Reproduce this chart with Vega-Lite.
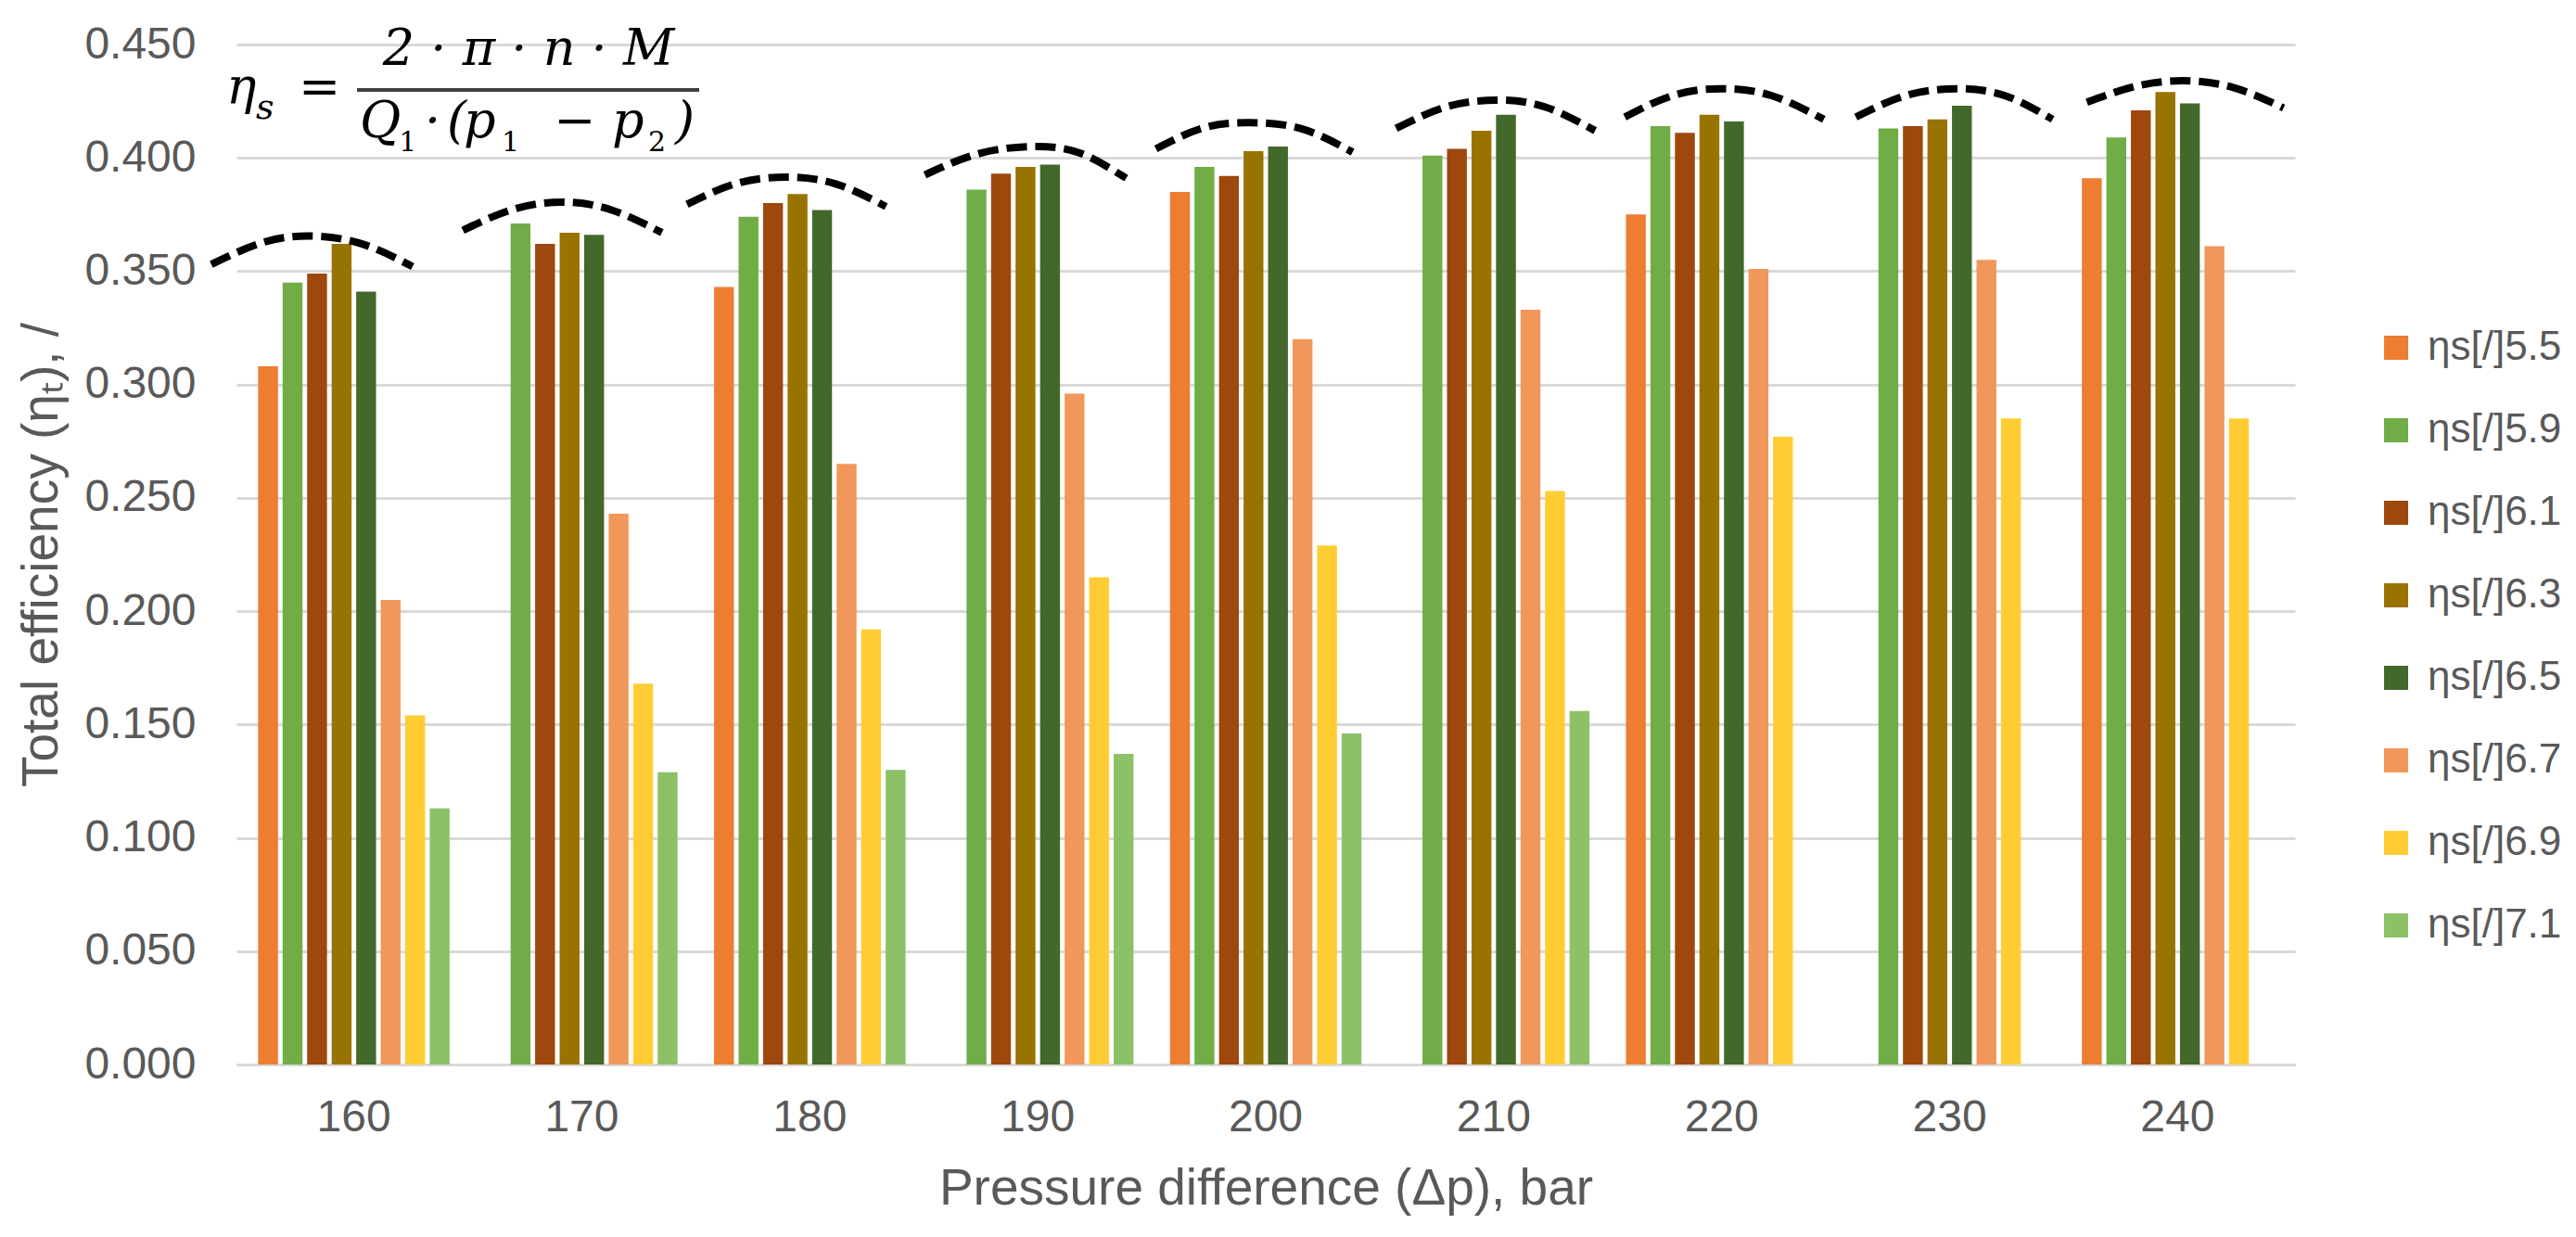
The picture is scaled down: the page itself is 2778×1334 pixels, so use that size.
{
  "$schema": "https://vega.github.io/schema/vega-lite/v6.json",
  "width": 2220,
  "height": 1100,
  "autosize": {"type": "none"},
  "padding": {"left": 255, "top": 48, "right": 303, "bottom": 186},
  "background": "white",
  "config": {"font": "Liberation Sans", "view": {"stroke": null}},
  "datasets": {
    "bars": [
      {"dp": "160", "series": "ηs[/]5.5", "value": 0.308},
      {"dp": "160", "series": "ηs[/]5.9", "value": 0.345},
      {"dp": "160", "series": "ηs[/]6.1", "value": 0.349},
      {"dp": "160", "series": "ηs[/]6.3", "value": 0.362},
      {"dp": "160", "series": "ηs[/]6.5", "value": 0.341},
      {"dp": "160", "series": "ηs[/]6.7", "value": 0.205},
      {"dp": "160", "series": "ηs[/]6.9", "value": 0.154},
      {"dp": "160", "series": "ηs[/]7.1", "value": 0.113},
      {"dp": "170", "series": "ηs[/]5.9", "value": 0.371},
      {"dp": "170", "series": "ηs[/]6.1", "value": 0.362},
      {"dp": "170", "series": "ηs[/]6.3", "value": 0.367},
      {"dp": "170", "series": "ηs[/]6.5", "value": 0.366},
      {"dp": "170", "series": "ηs[/]6.7", "value": 0.243},
      {"dp": "170", "series": "ηs[/]6.9", "value": 0.168},
      {"dp": "170", "series": "ηs[/]7.1", "value": 0.129},
      {"dp": "180", "series": "ηs[/]5.5", "value": 0.343},
      {"dp": "180", "series": "ηs[/]5.9", "value": 0.374},
      {"dp": "180", "series": "ηs[/]6.1", "value": 0.380},
      {"dp": "180", "series": "ηs[/]6.3", "value": 0.384},
      {"dp": "180", "series": "ηs[/]6.5", "value": 0.377},
      {"dp": "180", "series": "ηs[/]6.7", "value": 0.265},
      {"dp": "180", "series": "ηs[/]6.9", "value": 0.192},
      {"dp": "180", "series": "ηs[/]7.1", "value": 0.130},
      {"dp": "190", "series": "ηs[/]5.9", "value": 0.386},
      {"dp": "190", "series": "ηs[/]6.1", "value": 0.393},
      {"dp": "190", "series": "ηs[/]6.3", "value": 0.396},
      {"dp": "190", "series": "ηs[/]6.5", "value": 0.397},
      {"dp": "190", "series": "ηs[/]6.7", "value": 0.296},
      {"dp": "190", "series": "ηs[/]6.9", "value": 0.215},
      {"dp": "190", "series": "ηs[/]7.1", "value": 0.137},
      {"dp": "200", "series": "ηs[/]5.5", "value": 0.385},
      {"dp": "200", "series": "ηs[/]5.9", "value": 0.396},
      {"dp": "200", "series": "ηs[/]6.1", "value": 0.392},
      {"dp": "200", "series": "ηs[/]6.3", "value": 0.403},
      {"dp": "200", "series": "ηs[/]6.5", "value": 0.405},
      {"dp": "200", "series": "ηs[/]6.7", "value": 0.320},
      {"dp": "200", "series": "ηs[/]6.9", "value": 0.229},
      {"dp": "200", "series": "ηs[/]7.1", "value": 0.146},
      {"dp": "210", "series": "ηs[/]5.9", "value": 0.401},
      {"dp": "210", "series": "ηs[/]6.1", "value": 0.404},
      {"dp": "210", "series": "ηs[/]6.3", "value": 0.412},
      {"dp": "210", "series": "ηs[/]6.5", "value": 0.419},
      {"dp": "210", "series": "ηs[/]6.7", "value": 0.333},
      {"dp": "210", "series": "ηs[/]6.9", "value": 0.253},
      {"dp": "210", "series": "ηs[/]7.1", "value": 0.156},
      {"dp": "220", "series": "ηs[/]5.5", "value": 0.375},
      {"dp": "220", "series": "ηs[/]5.9", "value": 0.414},
      {"dp": "220", "series": "ηs[/]6.1", "value": 0.411},
      {"dp": "220", "series": "ηs[/]6.3", "value": 0.419},
      {"dp": "220", "series": "ηs[/]6.5", "value": 0.416},
      {"dp": "220", "series": "ηs[/]6.7", "value": 0.351},
      {"dp": "220", "series": "ηs[/]6.9", "value": 0.277},
      {"dp": "230", "series": "ηs[/]5.9", "value": 0.413},
      {"dp": "230", "series": "ηs[/]6.1", "value": 0.414},
      {"dp": "230", "series": "ηs[/]6.3", "value": 0.417},
      {"dp": "230", "series": "ηs[/]6.5", "value": 0.423},
      {"dp": "230", "series": "ηs[/]6.7", "value": 0.355},
      {"dp": "230", "series": "ηs[/]6.9", "value": 0.285},
      {"dp": "240", "series": "ηs[/]5.5", "value": 0.391},
      {"dp": "240", "series": "ηs[/]5.9", "value": 0.409},
      {"dp": "240", "series": "ηs[/]6.1", "value": 0.421},
      {"dp": "240", "series": "ηs[/]6.3", "value": 0.429},
      {"dp": "240", "series": "ηs[/]6.5", "value": 0.424},
      {"dp": "240", "series": "ηs[/]6.7", "value": 0.361},
      {"dp": "240", "series": "ηs[/]6.9", "value": 0.285}
    ],
    "arcs": [
      {"arc": "160", "ax": 153.9, "v": 0.353},
      {"arc": "160", "ax": 156.1, "v": 0.3625},
      {"arc": "160", "ax": 158.2, "v": 0.3655},
      {"arc": "160", "ax": 160.5, "v": 0.362},
      {"arc": "160", "ax": 162.7, "v": 0.352},
      {"arc": "170", "ax": 164.9, "v": 0.368},
      {"arc": "170", "ax": 167.0, "v": 0.377},
      {"arc": "170", "ax": 169.2, "v": 0.3805},
      {"arc": "170", "ax": 171.4, "v": 0.377},
      {"arc": "170", "ax": 173.6, "v": 0.367},
      {"arc": "180", "ax": 174.7, "v": 0.3795},
      {"arc": "180", "ax": 176.8, "v": 0.3885},
      {"arc": "180", "ax": 179.0, "v": 0.3915},
      {"arc": "180", "ax": 181.2, "v": 0.3885},
      {"arc": "180", "ax": 183.4, "v": 0.3785},
      {"arc": "190", "ax": 185.1, "v": 0.3925},
      {"arc": "190", "ax": 187.5, "v": 0.402},
      {"arc": "190", "ax": 189.9, "v": 0.405},
      {"arc": "190", "ax": 191.9, "v": 0.402},
      {"arc": "190", "ax": 193.9, "v": 0.391},
      {"arc": "200", "ax": 195.2, "v": 0.404},
      {"arc": "200", "ax": 197.2, "v": 0.413},
      {"arc": "200", "ax": 199.15, "v": 0.4155},
      {"arc": "200", "ax": 201.5, "v": 0.413},
      {"arc": "200", "ax": 203.8, "v": 0.4025},
      {"arc": "210", "ax": 205.7, "v": 0.413},
      {"arc": "210", "ax": 207.9, "v": 0.4225},
      {"arc": "210", "ax": 210.1, "v": 0.4255},
      {"arc": "210", "ax": 212.2, "v": 0.4225},
      {"arc": "210", "ax": 214.4, "v": 0.412},
      {"arc": "220", "ax": 215.7, "v": 0.418},
      {"arc": "220", "ax": 217.8, "v": 0.4275},
      {"arc": "220", "ax": 219.9, "v": 0.4305},
      {"arc": "220", "ax": 222.1, "v": 0.4275},
      {"arc": "220", "ax": 224.4, "v": 0.417},
      {"arc": "230", "ax": 225.8, "v": 0.418},
      {"arc": "230", "ax": 228.0, "v": 0.4275},
      {"arc": "230", "ax": 230.2, "v": 0.4305},
      {"arc": "230", "ax": 232.3, "v": 0.4275},
      {"arc": "230", "ax": 234.4, "v": 0.417},
      {"arc": "240", "ax": 235.9, "v": 0.4245},
      {"arc": "240", "ax": 238.0, "v": 0.4315},
      {"arc": "240", "ax": 240.1, "v": 0.434},
      {"arc": "240", "ax": 242.3, "v": 0.431},
      {"arc": "240", "ax": 244.5, "v": 0.422}
    ],
    "notes": [
      {"part": "num", "nx": 167.77, "ny": 0.4411, "label": "2 · π · n · M"},
      {"part": "main", "nx": 154.55, "ny": 0.4239, "label": "η"},
      {"part": "main", "nx": 157.72, "ny": 0.4239, "label": "="},
      {"part": "main", "nx": 160.39, "ny": 0.409, "label": "Q"},
      {"part": "main", "nx": 163.23, "ny": 0.409, "label": "·"},
      {"part": "main", "nx": 164.20, "ny": 0.409, "label": "("},
      {"part": "main", "nx": 164.93, "ny": 0.409, "label": "p"},
      {"part": "main", "nx": 168.86, "ny": 0.409, "label": "−"},
      {"part": "main", "nx": 171.42, "ny": 0.409, "label": "p"},
      {"part": "main", "nx": 174.18, "ny": 0.409, "label": ")"},
      {"part": "subi", "nx": 155.85, "ny": 0.4173, "label": "s"},
      {"part": "subd", "nx": 162.10, "ny": 0.403, "label": "1"},
      {"part": "subd", "nx": 166.59, "ny": 0.403, "label": "1"},
      {"part": "subd", "nx": 173.00, "ny": 0.403, "label": "2"}
    ],
    "fracbar": [
      {"x1": 160.27, "x2": 175.23, "fy": 0.430}
    ]
  },
  "layer": [
    {
      "data": {"name": "bars"},
      "mark": {"type": "bar"},
      "encoding": {
        "x": {
          "field": "dp", "type": "nominal",
          "scale": {"paddingInner": 0.16, "paddingOuter": 0.095},
          "axis": {
            "title": "Pressure difference (Δp), bar",
            "labelAngle": 0, "labelFontSize": 48, "labelColor": "#595959",
            "ticks": false, "tickSize": 0, "labelPadding": 33,
            "domain": true, "domainColor": "#d9d9d9", "domainWidth": 3,
            "grid": false,
            "titleFontSize": 55, "titleFontWeight": "normal", "titleColor": "#595959", "titlePadding": 26
          }
        },
        "xOffset": {
          "field": "series", "type": "nominal",
          "scale": {"domain": ["ηs[/]5.5", "ηs[/]5.9", "ηs[/]6.1", "ηs[/]6.3", "ηs[/]6.5", "ηs[/]6.7", "ηs[/]6.9", "ηs[/]7.1"], "paddingInner": 0.19, "paddingOuter": 0}
        },
        "y": {
          "field": "value", "type": "quantitative",
          "title": "Total efficiency (ηₜ), /",
          "scale": {"domain": [0, 0.45], "nice": false},
          "axis": {
            "values": [0, 0.05, 0.1, 0.15, 0.2, 0.25, 0.3, 0.35, 0.4, 0.45],
            "format": ".3f",
            "labelFontSize": 48, "labelColor": "#595959",
            "ticks": false, "tickSize": 0, "labelPadding": 44,
            "domain": false,
            "grid": true, "gridColor": "#d9d9d9", "gridWidth": 3,
            "titleFontSize": 55, "titleFontWeight": "normal", "titleColor": "#595959", "titlePadding": 17
          }
        },
        "color": {
          "field": "series", "type": "nominal",
          "scale": {
            "domain": ["ηs[/]5.5", "ηs[/]5.9", "ηs[/]6.1", "ηs[/]6.3", "ηs[/]6.5", "ηs[/]6.7", "ηs[/]6.9", "ηs[/]7.1"],
            "range": ["#ED7D31", "#70AD47", "#9E480E", "#997300", "#43682B", "#F1975A", "#FFCD33", "#8CC168"]
          },
          "legend": {
            "title": null, "orient": "none", "legendX": 2307, "legendY": 305,
            "direction": "vertical", "symbolType": "square", "symbolSize": 676,
            "symbolStrokeWidth": 0, "labelFontSize": 44, "labelColor": "#595959",
            "rowPadding": 45, "labelOffset": 12, "padding": 0
          }
        }
      }
    },
    {
      "data": {"name": "arcs"},
      "mark": {"type": "line", "interpolate": "natural", "strokeDash": [22, 9], "strokeWidth": 8, "color": "black", "strokeCap": "butt"},
      "encoding": {
        "x": {"field": "ax", "type": "quantitative", "scale": {"domain": [155, 245], "nice": false, "zero": false}, "axis": null},
        "y": {"field": "v", "type": "quantitative", "title": "Total efficiency (ηₜ), /"},
        "detail": {"field": "arc", "type": "nominal"}
      }
    },
    {
      "data": {"name": "fracbar"},
      "mark": {"type": "rule", "strokeWidth": 4, "color": "#404040"},
      "encoding": {
        "x": {"field": "x1", "type": "quantitative", "scale": {"domain": [155, 245], "nice": false, "zero": false}, "axis": null},
        "x2": {"field": "x2"},
        "y": {"field": "fy", "type": "quantitative", "title": "Total efficiency (ηₜ), /"}
      }
    },
    {
      "data": {"name": "notes"},
      "transform": [{"filter": "datum.part === 'num'"}],
      "mark": {"type": "text", "font": "DejaVu Serif", "fontStyle": "italic", "fontSize": 54, "align": "center", "baseline": "alphabetic", "color": "black"},
      "encoding": {
        "x": {"field": "nx", "type": "quantitative", "scale": {"domain": [155, 245], "nice": false, "zero": false}, "axis": null},
        "y": {"field": "ny", "type": "quantitative", "title": "Total efficiency (ηₜ), /"},
        "text": {"field": "label"}
      }
    },
    {
      "data": {"name": "notes"},
      "transform": [{"filter": "datum.part === 'main'"}],
      "mark": {"type": "text", "font": "DejaVu Serif", "fontStyle": "italic", "fontSize": 54, "align": "left", "baseline": "alphabetic", "color": "black"},
      "encoding": {
        "x": {"field": "nx", "type": "quantitative", "scale": {"domain": [155, 245], "nice": false, "zero": false}, "axis": null},
        "y": {"field": "ny", "type": "quantitative", "title": "Total efficiency (ηₜ), /"},
        "text": {"field": "label"}
      }
    },
    {
      "data": {"name": "notes"},
      "transform": [{"filter": "datum.part === 'subi'"}],
      "mark": {"type": "text", "font": "DejaVu Serif", "fontStyle": "italic", "fontSize": 38, "align": "left", "baseline": "alphabetic", "color": "black"},
      "encoding": {
        "x": {"field": "nx", "type": "quantitative", "scale": {"domain": [155, 245], "nice": false, "zero": false}, "axis": null},
        "y": {"field": "ny", "type": "quantitative", "title": "Total efficiency (ηₜ), /"},
        "text": {"field": "label"}
      }
    },
    {
      "data": {"name": "notes"},
      "transform": [{"filter": "datum.part === 'subd'"}],
      "mark": {"type": "text", "font": "DejaVu Serif", "fontSize": 30, "align": "left", "baseline": "alphabetic", "color": "black"},
      "encoding": {
        "x": {"field": "nx", "type": "quantitative", "scale": {"domain": [155, 245], "nice": false, "zero": false}, "axis": null},
        "y": {"field": "ny", "type": "quantitative", "title": "Total efficiency (ηₜ), /"},
        "text": {"field": "label"}
      }
    }
  ],
  "resolve": {"scale": {"x": "independent"}}
}
